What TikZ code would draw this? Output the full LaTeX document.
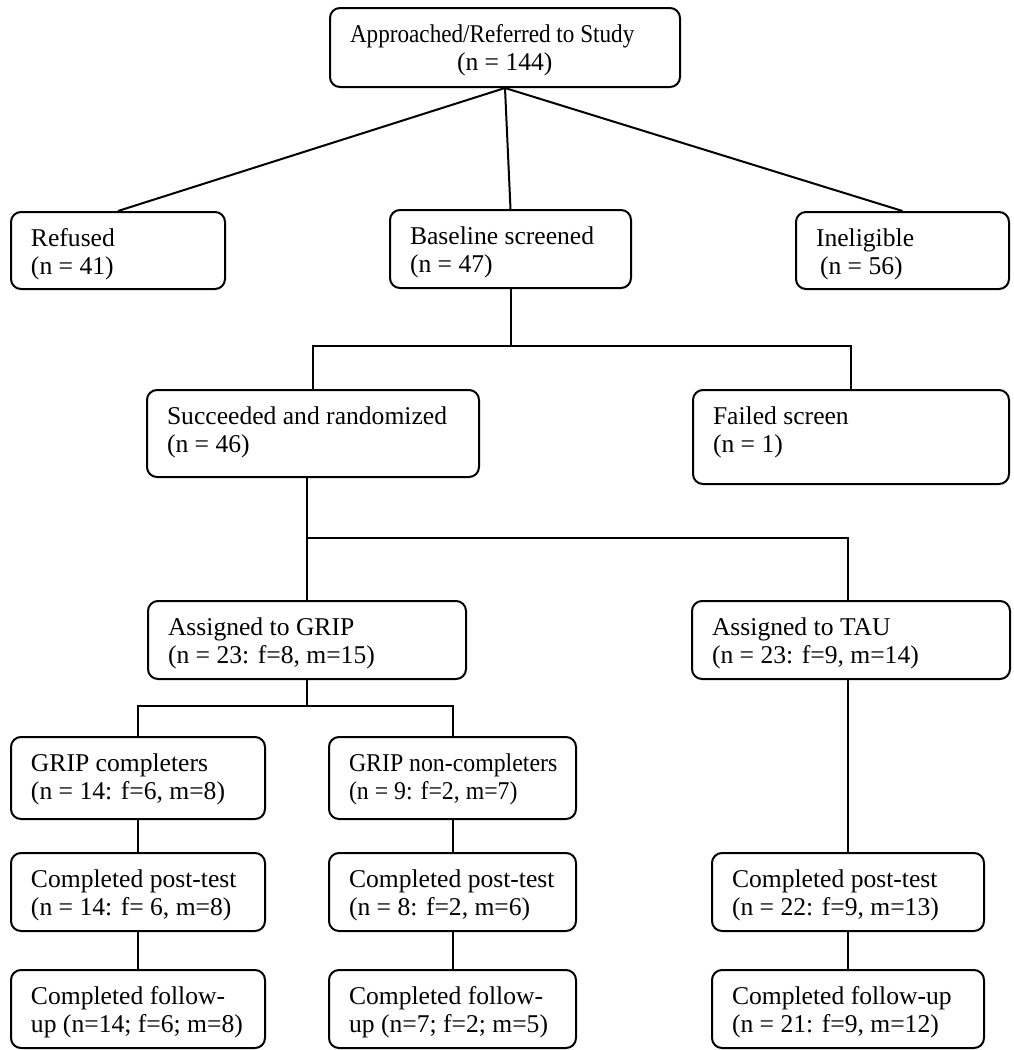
\documentclass[tikz,border=0pt]{standalone}
\usepackage{graphicx}
\usepackage{fontspec}
\setmainfont{Liberation Serif}
\newcommand{\boxtxt}[4]{\parbox[c][#2][t]{#1}{\rule{0pt}{17pt}\mbox{#3}\\\mbox{#4}}}
\begin{document}
\begin{tikzpicture}[x=0.5pt,y=-0.5pt,
  box/.style={draw, line width=1pt, rounded corners=5pt, anchor=north west,
    inner xsep=10pt, inner ysep=0pt, font=\fontsize{12.8pt}{14.3pt}\selectfont},
  conn/.style={draw, line width=1pt}]
\useasboundingbox (0,0) rectangle (1013,1050);
% boxes
\node[box] (top) at (329,7) {\boxtxt{155pt}{39.5pt}{\scalebox{0.905}[1]{Approached/Referred to Study}}{\hspace*{53.5pt}(n = 144)}};
\node[box] (refused) at (10,211) {\boxtxt{87pt}{38.5pt}{Refused}{(n = 41)}};
\node[box] (base) at (389,209) {\boxtxt{100.5pt}{39pt}{Baseline screened}{(n = 47)}};
\node[box] (inel) at (795,211) {\boxtxt{86.5pt}{38.5pt}{Ineligible}{\hspace*{2pt}(n = 56)}};
\node[box] (succ) at (146,389) {\boxtxt{146pt}{43.5pt}{Succeeded and randomized}{(n = 46)}};
\node[box] (failed) at (692,389) {\boxtxt{138pt}{47pt}{Failed screen}{(n = 1)}};
\node[box] (grip) at (147,600) {\boxtxt{139pt}{39pt}{Assigned to GRIP}{(n = 23: f=8, m=15)}};
\node[box] (tau) at (691,600) {\boxtxt{139pt}{39pt}{Assigned to TAU}{(n = 23: f=9, m=14)}};
\node[box] (comp) at (10,736) {\boxtxt{107pt}{41pt}{GRIP completers}{(n = 14: f=6, m=8)}};
\node[box] (noncomp) at (328,736) {\boxtxt{103.5pt}{41pt}{\scalebox{0.93}[1]{GRIP non-completers}}{\scalebox{0.93}[1]{(n = 9: f=2, m=7)}}};
\node[box] (cpost) at (10,852) {\boxtxt{107pt}{39pt}{Completed post-test}{(n = 14: f= 6, m=8)}};
\node[box] (npost) at (328,852) {\boxtxt{103.5pt}{39pt}{Completed post-test}{(n = 8: f=2, m=6)}};
\node[box] (tpost) at (711,852) {\boxtxt{116pt}{39pt}{Completed post-test}{(n = 22: f=9, m=13)}};
\node[box] (cfu) at (10,969) {\boxtxt{107pt}{39pt}{Completed follow-}{up (n=14; f=6; m=8)}};
\node[box] (nfu) at (328,969) {\boxtxt{103.5pt}{39pt}{Completed follow-}{up (n=7; f=2; m=5)}};
\node[box] (tfu) at (711,969) {\boxtxt{116pt}{39pt}{Completed follow-up}{(n = 21: f=9, m=12)}};
% junction levels
\coordinate (y346) at (0,346);
\coordinate (y538) at (0,538);
\coordinate (y706) at (0,706);
\coordinate (j1) at (base.south |- y346);
\coordinate (j2) at (grip.north |- y538);
\coordinate (j3) at (grip.south |- y706);
% connectors
\draw[conn] (top.south) -- (refused.north);
\draw[conn] (top.south) -- (base.north);
\draw[conn] (top.south) -- (inel.north);
\draw[conn] (base.south) -- (j1);
\draw[conn] (succ.north) |- (j1) -| (failed.north);
\draw[conn] (succ.south -| grip.north) -- (grip.north);
\draw[conn] (j2) -| (tau.north -| tpost.north);
\draw[conn] (grip.south) -- (j3);
\draw[conn] (comp.north) |- (j3) -| (noncomp.north);
\draw[conn] (tau.south -| tpost.north) -- (tpost.north);
\draw[conn] (comp.south) -- (cpost.north);
\draw[conn] (cpost.south) -- (cfu.north);
\draw[conn] (noncomp.south) -- (npost.north);
\draw[conn] (npost.south) -- (nfu.north);
\draw[conn] (tpost.south) -- (tfu.north);
\end{tikzpicture}
\end{document}
